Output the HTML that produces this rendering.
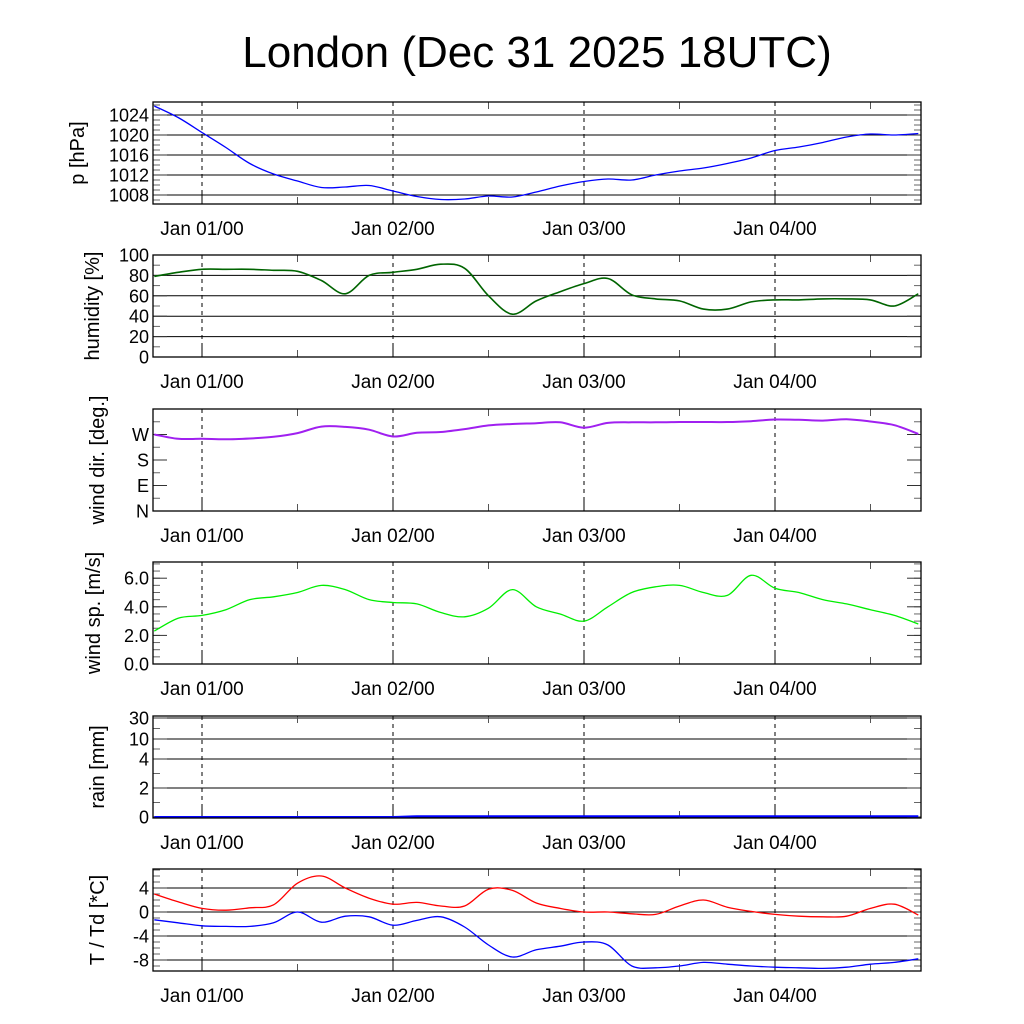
<!DOCTYPE html>
<html><head><meta charset="utf-8"><style>
body{margin:0;background:#fff}
svg{display:block;font-family:"Liberation Sans",sans-serif}
</style></head><body>
<svg id="c" width="1024" height="1024" viewBox="0 0 1024 1024">
<text x="537" y="67" font-size="44" text-anchor="middle">London (Dec 31 2025 18UTC)</text>
</svg>
<script>
// hours since Jan 01 00UTC, 3-hourly
const hours=[-6,-3,0,3,6,9,12,15,18,21,24,27,30,33,36,39,42,45,48,51,54,57,60,63,66,69,72,75,78,81,84,87,90];
const pressure=[1025.8,1023.5,1020.5,1017.5,1014.3,1012.2,1010.8,1009.5,1009.6,1009.9,1008.8,1007.7,1007.1,1007.2,1007.8,1007.6,1008.6,1009.8,1010.7,1011.2,1011,1012,1012.8,1013.4,1014.3,1015.4,1016.9,1017.6,1018.5,1019.6,1020.2,1020,1020.3];
const humidity=[79,83,86,86,86,85,84,75,62,80,83,86,91,87,60,42,55,64,72,77,61,57,55,47,47,54,56,56,57,57,56,50,62];
const windDir=[270,255,255,253,256,262,275,298,297,287,263,276,279,289,302,307,310,313,294,311,313,313,314,314,314,317,323,322,319,324,316,303,272];
const windSpeed=[2.3,3.2,3.4,3.8,4.5,4.7,5.0,5.5,5.2,4.5,4.3,4.2,3.6,3.3,3.9,5.2,4.0,3.5,3.0,4.0,5.0,5.4,5.5,5.0,4.8,6.2,5.3,5.0,4.5,4.2,3.8,3.4,2.8];
const rain=[0,0,0,0,0,0,0,0,0,0,0,0.05,0.05,0.05,0.05,0.05,0.05,0.05,0.05,0.05,0.05,0.05,0.05,0.05,0.05,0.05,0.05,0.05,0.05,0.05,0.05,0.05,0.05];
const temp=[3.0,1.7,0.6,0.3,0.7,1.2,4.8,6.0,4.0,2.3,1.3,1.6,1.0,1.0,3.8,3.6,1.5,0.6,0.0,0.0,-0.3,-0.4,1.0,2.0,0.8,0.1,-0.4,-0.7,-0.8,-0.7,0.6,1.3,-0.5];
const dew=[-1.3,-1.8,-2.3,-2.4,-2.4,-1.8,0.0,-1.7,-0.7,-0.8,-2.2,-1.4,-0.8,-2.5,-5.5,-7.5,-6.3,-5.7,-5.0,-5.5,-9.0,-9.3,-9.0,-8.4,-8.7,-9.0,-9.2,-9.3,-9.4,-9.2,-8.7,-8.4,-7.8];
const dayLabels=["Jan 01/00","Jan 02/00","Jan 03/00","Jan 04/00"];
const dayHours=[0,24,48,72];

const NS="http://www.w3.org/2000/svg";
const svg=document.getElementById('c');
const L=153,R=921,H=102;
function X(h){return 202+h*191/24;}
function mk(tag,at,parent){const e=document.createElementNS(NS,tag);for(const k in at)e.setAttribute(k,at[k]);(parent||svg).appendChild(e);return e;}
function smooth(pts){
  let d='M'+pts[0][0].toFixed(1)+','+pts[0][1].toFixed(1);
  for(let i=0;i<pts.length-1;i++){
    const p0=pts[Math.max(0,i-1)],p1=pts[i],p2=pts[i+1],p3=pts[Math.min(pts.length-1,i+2)];
    const c1=[p1[0]+(p2[0]-p0[0])/6,p1[1]+(p2[1]-p0[1])/6],c2=[p2[0]-(p3[0]-p1[0])/6,p2[1]-(p3[1]-p1[1])/6];
    d+='C'+c1.map(v=>v.toFixed(1)).join(',')+' '+c2.map(v=>v.toFixed(1)).join(',')+' '+p2[0].toFixed(1)+','+p2[1].toFixed(1);
  }
  return d;
}

function panel(name,top,ylab,titleX,yfn,majors,majLabels,grid,minors,series){
  const g=mk('g',{});
  
  
  const bot=top+H;
  if(grid) majors.forEach(v=>{const y=yfn(v);const l=mk('line',{x1:L,x2:R,y1:y,y2:y,stroke:'#000','stroke-width':1},g);});
  dayHours.forEach((h,i)=>{const x=X(h);
    const l=mk('line',{x1:x,x2:x,y1:top,y2:bot,stroke:'#000','stroke-width':1,'stroke-dasharray':'4,4'},g);
    
    mk('line',{x1:x,x2:x,y1:bot,y2:bot-13,stroke:'#000'},g);
    const t=mk('text',{x:x,y:bot+31,'font-size':19,'text-anchor':'middle'},g);t.textContent=dayLabels[i];
    
  });
  [12,36,60,84].forEach(h=>{const x=X(h);mk('line',{x1:x,x2:x,y1:bot,y2:bot-7,stroke:'#555'},g);mk('line',{x1:x,x2:x,y1:top,y2:top+7,stroke:'#555'},g);});
  minors.forEach(v=>{const y=yfn(v);mk('line',{x1:L,x2:L+7,y1:y,y2:y,stroke:'#666'},g);mk('line',{x1:R,x2:R-7,y1:y,y2:y,stroke:'#666'},g);});
  majors.forEach((v,i)=>{const y=yfn(v);mk('line',{x1:L,x2:L+14,y1:y,y2:y,stroke:'#333'},g);mk('line',{x1:R,x2:R-14,y1:y,y2:y,stroke:'#333'},g);
    const t=mk('text',{x:L-4,y:y+6.5,'font-size':18,'text-anchor':'end'},g);t.textContent=majLabels[i];
    });
  series.forEach(s=>{
    const d=smooth(hours.map((h,i)=>[X(h),yfn(s.v[i])]));
    const p=mk('path',{d:d,fill:'none',stroke:s.c,'stroke-width':s.w||1.3,'stroke-linejoin':'round'},g);
    
  });
  const r=mk('rect',{x:L,y:top,width:R-L,height:H,fill:'none',stroke:'#000','stroke-width':1.3},g);
  
  const cy=top+H/2;
  const t=mk('text',{x:0,y:0,'font-size':20,'text-anchor':'middle',transform:`translate(${titleX},${cy}) rotate(-90)`},g);
  t.textContent=ylab;
}
function range(a,b,s){const r=[];for(let v=a;v<=b+1e-9;v+=s)r.push(+v.toFixed(3));return r;}

panel('pressure',102,'p [hPa]',84,v=>115+(1024-v)*5,[1008,1012,1016,1020,1024],['1008','1012','1016','1020','1024'],true,range(1007,1026,1),[{v:pressure,c:'#0000ff',n:'pressure-line'}]);
panel('humidity',255,'humidity [%]',99,v=>357-v*1.02,[0,20,40,60,80,100],['0','20','40','60','80','100'],true,range(10,90,20),[{v:humidity,c:'#006400',n:'humidity-line',w:1.6}]);
panel('wind-dir',409,'wind dir. [deg.]',104,v=>511-v*0.2833,[0,90,180,270,360],['N','E','S','W',''],false,range(45,315,90),[{v:windDir,c:'#a020f0',n:'wind-direction-line',w:2}]);
panel('wind-speed',562,'wind sp. [m/s]',100,v=>664-v*14.3,[0,2,4,6],['0.0','2.0','4.0','6.0'],false,range(0.5,7,0.5),[{v:windSpeed,c:'#00ee00',n:'wind-speed-line'}]);
const rainV=[0,2,4,10,30],rainY=[818,789,760,740,719];
function rainY_(v){for(let i=1;i<rainV.length;i++){if(v<=rainV[i]){const t=(v-rainV[i-1])/(rainV[i]-rainV[i-1]);return rainY[i-1]+t*(rainY[i]-rainY[i-1]);}}return 716;}
panel('rain',716,'rain [mm]',104,v=>rainY_(v)-1,[0,2,4,10,30],['0','2','4','10','30'],true,[1,3,7,20],[{v:rain,c:'#0000ff',n:'rain-line',w:2}]);
panel('temperature',869,'T / Td [*C]',104,v=>912-v*6,[-8,-4,0,4],['-8','-4','0','4'],true,[-9,-7,-6,-5,-3,-2,-1,1,2,3,5,6,7],[{v:temp,c:'#ff0000',n:'temperature-line'},{v:dew,c:'#0000ff',n:'dewpoint-line'}]);
</script>
</body></html>
